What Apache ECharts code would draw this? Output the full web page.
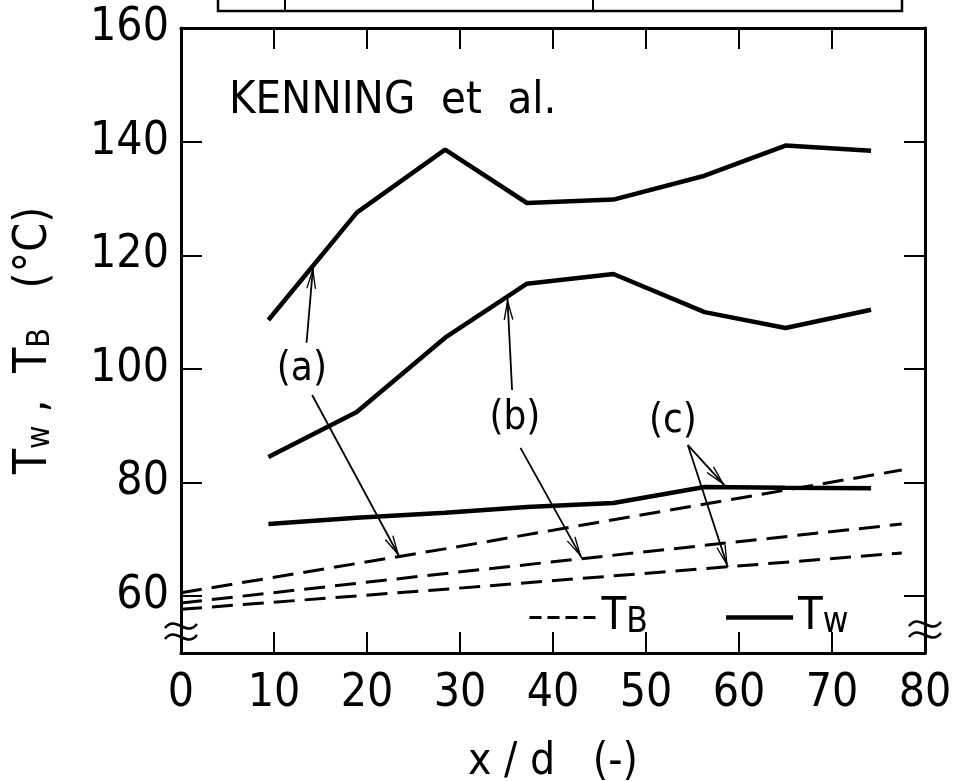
<!DOCTYPE html>
<html>
<head>
<meta charset="utf-8">
<script src="https://cdn.jsdelivr.net/npm/echarts@6/dist/echarts.min.js"></script>
<style>
  html, body { margin: 0; padding: 0; background: #fff; }
  #chart { width: 953px; height: 781px; }
</style>
</head>
<body>
<div id="chart"></div>
<script>
// x/d stations of the wall temperature readings
const xPos = [9.4, 18.9, 28.4, 37.2, 46.5, 56.3, 65.0, 74.2];
// wall temperature Tw, cases (a) (b) (c)
const twA = [108.6, 127.5, 138.6, 129.2, 129.8, 134.0, 139.3, 138.4];
const twB = [84.5, 92.4, 105.5, 115.0, 116.7, 110.0, 107.2, 110.4];
const twC = [72.7, 73.8, 74.7, 75.7, 76.4, 79.2, 79.1, 79.0];
// bulk temperature TB (dashed)
const tbX = [0, 29, 77.5];
const tbA = [60.6, 68.5, 82.2];
const tbB = [58.8, 64.1, 72.7];
const tbC = [57.7, 61.3, 67.6];
// ticks / labels
const xTicks = [10, 20, 30, 40, 50, 60, 70];
const xLabels = [0, 10, 20, 30, 40, 50, 60, 70, 80];
const yTicks = [60, 80, 100, 120, 140];
const yLabels = [60, 80, 100, 120, 140, 160];
// case tags and their arrows (data coords)
const tagNames = ['(a)', '(b)', '(c)'];
const tagPos = [[13.0, 99.8], [35.9, 91.2], [52.9, 90.8]];
const arrowFrom = [[13.5, 104.6], [14.1, 95.4], [35.6, 96.3], [36.5, 86.1], [54.5, 86.6], [54.5, 86.6]];
const arrowTo = [[14.2, 118.0], [23.5, 66.9], [35.1, 112.5], [43.1, 66.7], [58.5, 79.4], [58.8, 65.1]];

const FONT = "'Liberation Sans Narrow', 'DejaVu Sans Condensed', 'Liberation Sans', sans-serif";
const GL = 181, GR = 925, GT = 28, GB = 653;
const ARROW = 'path://M0,0 L5,18 L3.6,18 L0,5 L-3.6,18 L-5,18 Z';

const pairs = (xs, ys) => xs.map((x, i) => [x, ys[i]]);

const chart = echarts.init(document.getElementById('chart'));

function wave(cx, cy) {
  return {
    type: 'bezierCurve',
    shape: { x1: cx - 16, y1: cy + 2, cpx1: cx - 5, cpy1: cy - 12, cpx2: cx + 5, cpy2: cy + 12, x2: cx + 16, y2: cy - 2 },
    style: { stroke: '#000', lineWidth: 2.5, fill: null },
    z: 100
  };
}

const axisLine = { show: true, onZero: false, lineStyle: { color: '#000', width: 3 } };
const tickStyle = { color: '#000', width: 2 };

const solid = (data) => ({
  type: 'line', name: 'Tw', data: data, symbol: 'none', silent: true,
  itemStyle: { color: '#000' },
  lineStyle: { color: '#000', width: 4.5 }, z: 3
});
const dashed = (data) => ({
  type: 'line', name: 'TB', data: data, symbol: 'none', silent: true,
  itemStyle: { color: '#000' },
  lineStyle: { color: '#000', width: 3, type: [21, 10] }, z: 2
});

const option = {
  animation: false,
  backgroundColor: '#fff',
  textStyle: { fontFamily: FONT, color: '#000' },
  grid: { left: GL, right: 953 - GR, top: GT, bottom: 781 - GB, outerBoundsMode: 'none' },
  title: {
    text: 'KENNING  et  al.',
    left: 224, top: 74,
    textStyle: { fontFamily: FONT, fontSize: 45, fontWeight: 'normal', color: '#000' }
  },
  legend: {
    left: 523, top: 590,
    itemWidth: 67, itemHeight: 14, itemGap: 76,
    selectedMode: false,
    itemStyle: { opacity: 0 },
    data: [
      { name: 'TB', lineStyle: { type: [12, 6], width: 3 } },
      { name: 'Tw', lineStyle: { width: 4.5 } }
    ],
    formatter: (n) => n === 'TB' ? '{t|T}{s|B}' : '{t|T}{s|w}',
    textStyle: {
      color: '#000',
      rich: {
        t: { fontFamily: FONT, fontSize: 45, color: '#000', verticalAlign: 'bottom' },
        s: { fontFamily: FONT, fontSize: 35, color: '#000', verticalAlign: 'bottom' }
      }
    }
  },
  xAxis: [
    {
      type: 'value', min: 0, max: 80, position: 'bottom',
      axisLine: axisLine,
      axisTick: { inside: true, length: 21, customValues: xTicks, lineStyle: tickStyle },
      axisLabel: { customValues: xLabels, margin: 18, fontSize: 46, fontFamily: FONT, color: '#000' },
      splitLine: { show: false },
      name: 'x / d   (-)', nameLocation: 'middle', nameGap: 88,
      nameTextStyle: { fontSize: 44, fontFamily: FONT, color: '#000' }
    },
    {
      type: 'value', min: 0, max: 80, position: 'top',
      axisLine: axisLine,
      axisTick: { inside: true, length: 21, customValues: xTicks, lineStyle: tickStyle },
      axisLabel: { show: false },
      splitLine: { show: false }
    }
  ],
  yAxis: [
    {
      type: 'value', min: 50, max: 160, position: 'left',
      axisLine: axisLine,
      axisTick: { inside: true, length: 21, customValues: yTicks, lineStyle: tickStyle },
      axisLabel: { customValues: yLabels, margin: 12, fontSize: 46, fontFamily: FONT, color: '#000' },
      splitLine: { show: false },
      name: '{b|T}{s|w}{b| ,  T}{s|B}{b|   (°C)}',
      nameLocation: 'middle', nameRotate: 90, nameGap: 124,
      nameTextStyle: {
        rich: {
          b: { fontFamily: FONT, fontSize: 46, color: '#000', verticalAlign: 'bottom' },
          s: { fontFamily: FONT, fontSize: 32, color: '#000', verticalAlign: 'bottom' }
        }
      }
    },
    {
      type: 'value', min: 50, max: 160, position: 'right',
      axisLine: axisLine,
      axisTick: { inside: true, length: 21, customValues: yTicks, lineStyle: tickStyle },
      axisLabel: { show: false },
      splitLine: { show: false }
    }
  ],
  series: [
    solid(pairs(xPos, twA)),
    solid(pairs(xPos, twB)),
    solid(pairs(xPos, twC)),
    dashed(pairs(tbX, tbA)),
    dashed(pairs(tbX, tbB)),
    dashed(pairs(tbX, tbC)),
    {
      type: 'scatter', name: 'tags', silent: true,
      symbolSize: 0,
      itemStyle: { color: '#000', opacity: 1 },
      data: tagPos.map((p, i) => ({ name: tagNames[i], value: p })),
      label: {
        show: true, position: 'inside', formatter: '{b}',
        fontFamily: FONT, fontSize: 40, color: '#000', textBorderWidth: 0
      },
      markLine: {
        silent: true, animation: false,
        symbol: ['none', ARROW],
        label: { show: false },
        lineStyle: { color: '#000', width: 1.8, type: 'solid', opacity: 1 },
        data: arrowFrom.map((f, i) => [
          { coord: f, symbol: 'none' },
          { coord: arrowTo[i], symbol: ARROW, symbolSize: [10, 22], symbolOffset: [0, 11] }
        ])
      }
    }
  ],
  graphic: [
    // remnant of the frame above
    { type: 'polyline', shape: { points: [[218, -3], [218, 11], [902, 11], [902, -3]] }, style: { stroke: '#000', lineWidth: 2.5, fill: null } },
    { type: 'line', shape: { x1: 285, y1: -3, x2: 285, y2: 11 }, style: { stroke: '#000', lineWidth: 2 } },
    { type: 'line', shape: { x1: 593, y1: -3, x2: 593, y2: 11 }, style: { stroke: '#000', lineWidth: 2 } },
    // axis break marks
    wave(GL, 626), wave(GL, 637),
    wave(GR, 624), wave(GR, 635)
  ]
};

chart.setOption(option);
</script>
</body>
</html>
